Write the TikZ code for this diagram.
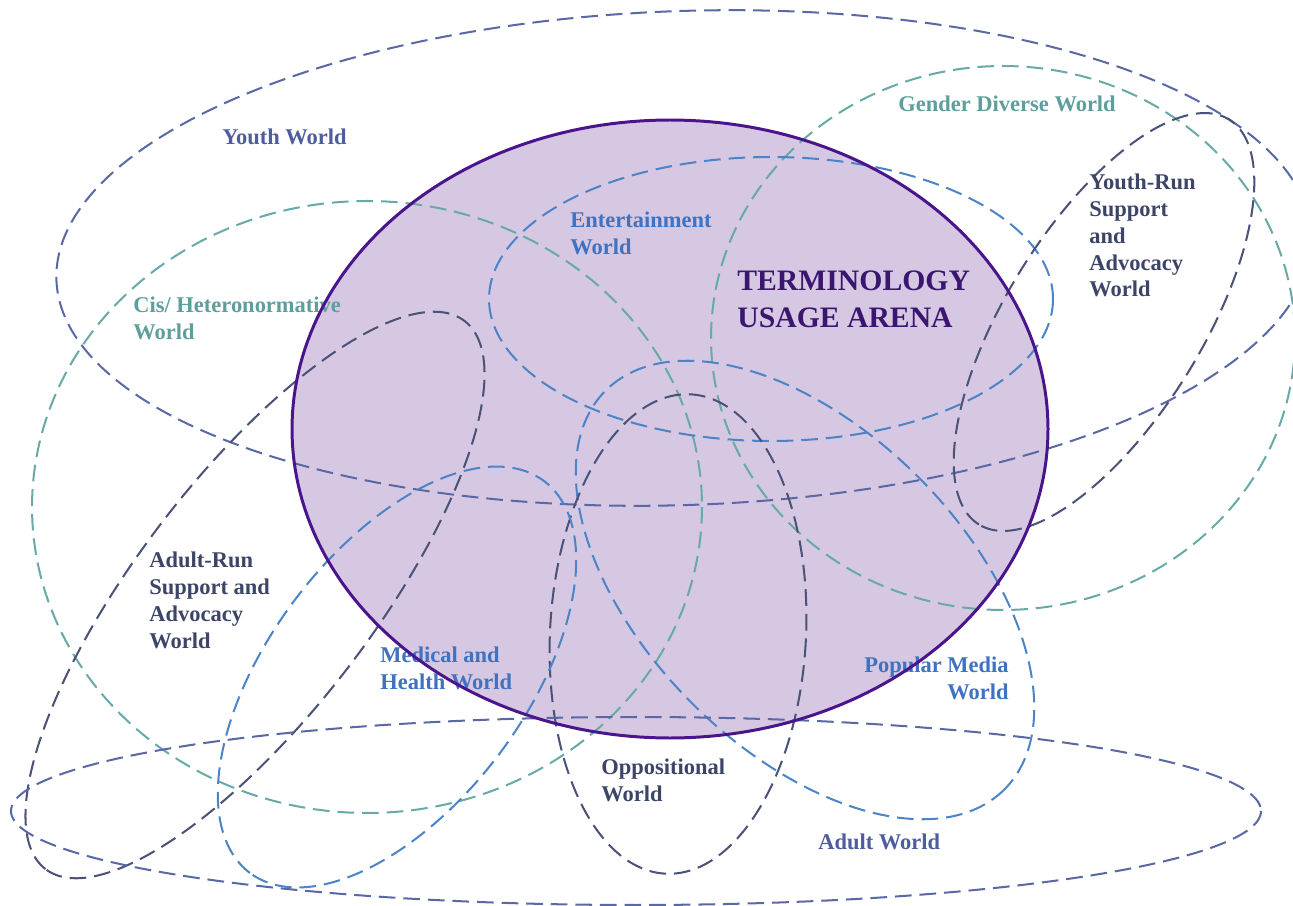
\documentclass[tikz,border=0pt]{standalone}
\usepackage{fontspec}
\setmainfont{Liberation Serif}
\definecolor{youthc}{HTML}{5A68A6}
\definecolor{tealc}{HTML}{67AAA8}
\definecolor{bluec}{HTML}{4D84C8}
\definecolor{darkc}{HTML}{4A5278}
\definecolor{arenafill}{HTML}{D6C8E2}
\definecolor{arenaline}{HTML}{4A148C}
\definecolor{arenatext}{HTML}{3A1670}
\definecolor{youthtxt}{HTML}{4E5CA0}
\definecolor{tealtxt}{HTML}{5E9E9C}
\definecolor{bluetxt}{HTML}{3F72C0}
\definecolor{darktxt}{HTML}{3C4468}
% #1 style, #2 cx, #3 cy, #4 a, #5 b, #6 angle (pixel coordinates, y down)
\newcommand{\worldshape}[6]{%
  \draw[#1] plot[domain=0:360,samples=241,variable=\ang]
    ({#2+#4*cos(\ang)*cos(#6)-#5*sin(\ang)*sin(#6)},
     {#3+#4*cos(\ang)*sin(#6)+#5*sin(\ang)*cos(#6)}) -- cycle;}
\tikzset{
  world/.style={dash pattern=on 9.5pt off 4.5pt, line width=1.15pt},
  lab/.style={font=\fontsize{12.8}{15.2}\selectfont\bfseries, inner sep=0pt, align=left},
  arenalab/.style={font=\fontsize{16.9}{21.6}\selectfont\bfseries, inner sep=0pt, align=left, text=arenatext},
}
\begin{document}
\begin{tikzpicture}[x=0.02cm,y=-0.02cm]
\useasboundingbox (0,0) rectangle (1293,905);
% arena fill
\worldshape{fill=arenafill, draw=none}{670}{429}{378}{309}{0}
% worlds
\worldshape{world, youthc}{684}{258}{628}{247}{-2}
\worldshape{world, tealc}{367}{507}{335}{306}{0}
\worldshape{world, tealc}{1003}{338}{292}{272}{0}
\worldshape{world, bluec}{771}{299}{282}{142}{0}
\worldshape{world, bluec}{805}{590}{282}{160}{45}
\worldshape{world, darkc}{678}{634}{128}{240}{3}
\worldshape{world, bluec}{397}{677}{245}{128}{126.9}
\worldshape{world, darkc}{255}{595}{345}{118}{127.4}
\worldshape{world, darkc}{1104}{322}{238}{98}{121.7}
\worldshape{world, youthc}{636}{811}{625}{94}{0}
% labels
\node[lab, text=youthtxt, anchor=west] (youth) at (222,137) {Youth World};
\node[lab, text=tealtxt, anchor=west] (gender) at (898,104) {Gender Diverse World};
\node[lab, text=bluetxt, anchor=north west] (ent) at (570,212) {Entertainment\\World};
\node[arenalab, anchor=north west] (arena) at (737,270) {TERMINOLOGY\\USAGE ARENA};
\node[lab, text=darktxt, anchor=north west] (yrun) at (1089,174) {Youth-Run\\Support\\and\\Advocacy\\World};
\node[lab, text=tealtxt, anchor=north west] (cis) at (133,297) {Cis/ Heteronormative\\World};
\node[lab, text=darktxt, anchor=north west] (arun) at (149,552) {Adult-Run\\Support and\\Advocacy\\World};
\node[lab, text=bluetxt, anchor=north west] (med) at (380,647) {Medical and\\Health World};
\node[lab, text=bluetxt, anchor=north east, align=right] (pop) at (1009,657) {Popular Media\\World};
\node[lab, text=darktxt, anchor=north west] (opp) at (601,759) {Oppositional\\World};
\node[lab, text=youthtxt, anchor=west] (adult) at (818,842) {Adult World};
% arena outline
\worldshape{draw=arenaline, line width=1.7pt}{670}{429}{378}{309}{0}
\end{tikzpicture}
\end{document}
